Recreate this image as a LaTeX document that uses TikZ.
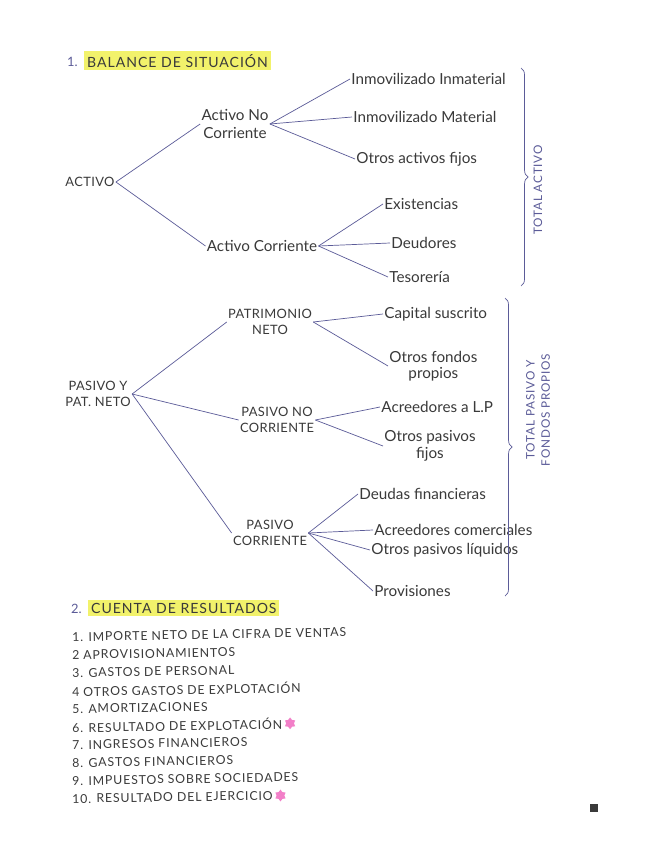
\documentclass[tikz,border=0pt]{standalone}
\usepackage{fontspec}
\setmainfont{Lato}
\newfontfamily\spaced[LetterSpace=7]{Lato}
\newfontfamily\capsfont[LetterSpace=3]{Lato}
\usetikzlibrary{shapes.geometric, positioning, calc, decorations.pathreplacing}
\definecolor{ink}{HTML}{5B5B98}
\definecolor{pencil}{HTML}{3A3A3A}
\definecolor{marker}{HTML}{F2F26B}
\definecolor{blossom}{HTML}{F27FC8}
\tikzstyle{branch} = [ink, semithick]

\begin{document}
\begin{tikzpicture}[
    x=0.03cm, y=-0.03cm,
    leaf/.style={text=pencil, font=\fontsize{13}{14}\selectfont, inner sep=1pt, anchor=west, align=center},
    hub/.style={text=pencil, font=\fontsize{13}{15}\selectfont, align=center, inner sep=1pt},
    caps/.style={text=pencil, font=\capsfont\fontsize{11}{14}\selectfont, align=center, inner sep=1pt},
    heading/.style={text=pencil, font=\spaced\fontsize{12}{14}\selectfont, fill=marker, inner sep=2.5pt, anchor=west},
    entry/.style={text=pencil, font=\spaced\fontsize{10.5}{12}\selectfont, anchor=west, rotate=1, inner sep=0pt},
    total/.style={text=ink, font=\spaced\fontsize{10}{13}\selectfont, rotate=90, align=center, inner sep=1pt},
    bracket/.style={ink, semithick, decorate, decoration={brace, amplitude=6pt}},
    blot/.style={star, star points=6, fill=blossom, minimum size=10pt, inner sep=0pt}
]
    \fill[white] (0,0) rectangle (655,848);
    \useasboundingbox (0,0) rectangle (655,848);

    % 1. balance
    \node[text=ink, font=\fontsize{11}{13}\selectfont, anchor=west] (num1) at (63,62) {1.};
    \node[heading] (balance) at (84,61) {BALANCE DE SITUACIÓN};

    \node[caps] (activo) at (90,182) {ACTIVO};
    \node[hub] (anc) at (235,124) {Activo No\\Corriente};
    \node[hub] (ac) at (262,246) {Activo Corriente};

    \node[leaf] (inmat) at (350,79) {Inmovilizado Inmaterial};
    \node[leaf] (mat) at (352,117) {Inmovilizado Material};
    \node[leaf] (otrosaf) at (355,159) {Otros activos fijos};
    \node[leaf] (exist) at (383,204) {Existencias};
    \node[leaf] (deud) at (390,243) {Deudores};
    \node[leaf] (teso) at (388,277) {Tesorería};

    \draw[branch] (activo.east) -- (anc.west);
    \draw[branch] (activo.east) -- (ac.west);
    \foreach \leafname in {inmat, mat, otrosaf}
        \draw[branch] (anc.east) -- (\leafname.west);
    \foreach \leafname in {exist, deud, teso}
        \draw[branch] (ac.east) -- (\leafname.west);

    \coordinate (b1top) at (521,68);
    \coordinate (b1bot) at (521,286);
    \draw[bracket] (b1top) -- (b1bot);
    \node[total] (totact) at (538,190) {TOTAL ACTIVO};

    % pasivo y patrimonio neto
    \node[caps] (pyp) at (98,394) {PASIVO Y\\PAT. NETO};
    \node[caps] (pn) at (270,322) {PATRIMONIO\\NETO};
    \node[caps] (pnc) at (277,420) {PASIVO NO\\CORRIENTE};
    \node[caps] (pc) at (270,533) {PASIVO\\CORRIENTE};

    \node[leaf] (capsus) at (383,314) {Capital suscrito};
    \node[leaf] (ofp) at (388,366) {Otros fondos\\propios};
    \node[leaf] (alp) at (380,407) {Acreedores a L.P};
    \node[leaf] (opf) at (383,446) {Otros pasivos\\fijos};
    \node[leaf] (dfin) at (358,494) {Deudas financieras};
    \node[leaf] (acom) at (373,530) {Acreedores comerciales};
    \node[leaf] (opl) at (370,550) {Otros pasivos líquidos};
    \node[leaf] (prov) at (373,591) {Provisiones};

    \draw[branch] (pyp.east) -- (pn.west);
    \draw[branch] (pyp.east) -- (pnc.west);
    \draw[branch] (pyp.east) -- (pc.west);
    \foreach \leafname in {capsus, ofp}
        \draw[branch] (pn.east) -- (\leafname.west);
    \foreach \leafname in {alp, opf}
        \draw[branch] (pnc.east) -- (\leafname.west);
    \foreach \leafname in {dfin, acom, opl, prov}
        \draw[branch] (pc.east) -- (\leafname.west);

    \coordinate (b2top) at (505,298);
    \coordinate (b2bot) at (505,596);
    \draw[bracket] (b2top) -- (b2bot);
    \node[total] (totpas) at (538,410) {TOTAL PASIVO Y\\FONDOS PROPIOS};

    % 2. cuenta de resultados
    \node[text=ink, font=\fontsize{11}{13}\selectfont, anchor=west] (num2) at (67,609) {2.};
    \node[heading] (cuenta) at (88,608) {CUENTA DE RESULTADOS};

    \foreach \n/\txt in {1/{1. IMPORTE NETO DE LA CIFRA DE VENTAS}, 2/{2 APROVISIONAMIENTOS},
        3/{3. GASTOS DE PERSONAL}, 4/{4 OTROS GASTOS DE EXPLOTACIÓN}, 5/{5. AMORTIZACIONES},
        6/{6. RESULTADO DE EXPLOTACIÓN}, 7/{7. INGRESOS FINANCIEROS}, 8/{8. GASTOS FINANCIEROS},
        9/{9. IMPUESTOS SOBRE SOCIEDADES}, 10/{10. RESULTADO DEL EJERCICIO}}
        \node[entry] (e\n) at (72,{619+18*\n}) {\txt};

    \node[blot, right=3pt of e6] (star6) {};
    \node[blot, right=3pt of e10] (star10) {};

    \fill[pencil] (590,804) rectangle (598,812);
\end{tikzpicture}
\end{document}
